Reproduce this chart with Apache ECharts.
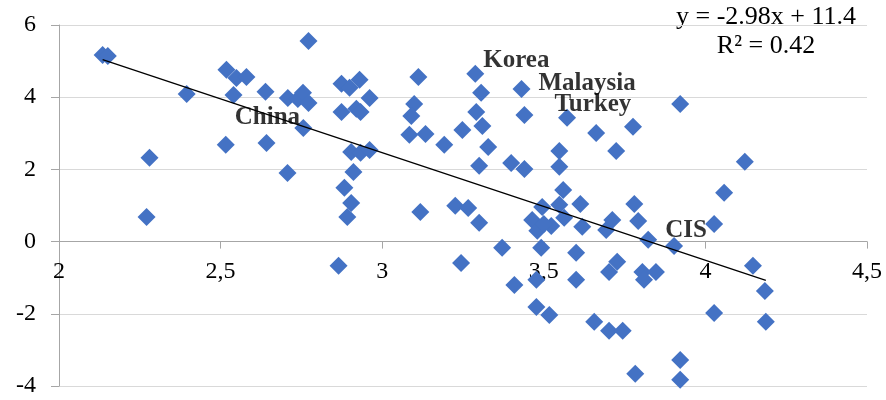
<!DOCTYPE html>
<html>
<head>
<meta charset="utf-8">
<script src="https://cdn.jsdelivr.net/npm/echarts@6/dist/echarts.min.js"></script>
<style>
  html, body { margin: 0; padding: 0; background: #fff; }
  #chart { width: 886px; height: 400px; }
</style>
</head>
<body>
<div id="chart"></div>
<script>
// 数据点 (x, y) ---------------------------------------------------------------
var xValues = [
    2.135, 2.151, 2.395, 2.280, 2.271, 2.518, 2.549, 2.580, 2.540, 2.639,
    2.516, 2.642, 2.707, 2.772, 2.708, 2.739, 2.755, 2.772, 2.756, 2.874,
    2.899, 2.930, 2.961, 2.874, 2.920, 2.933, 2.904, 2.933, 2.961, 2.911,
    2.883, 2.904, 2.892, 2.865, 3.112, 3.099, 3.090, 3.084, 3.134, 3.192,
    3.118, 3.226, 3.266, 3.288, 3.306, 3.291, 3.310, 3.248, 3.328, 3.431,
    3.440, 3.572, 3.662, 3.724, 3.548, 3.300, 3.399, 3.440, 3.548, 3.560,
    3.300, 3.464, 3.495, 3.480, 3.523, 3.548, 3.563, 3.613, 3.619, 3.693,
    3.712, 3.371, 3.492, 3.600, 3.922, 3.776, 4.122, 4.058, 3.780, 3.792,
    3.823, 3.903, 4.027, 3.244, 3.409, 3.477, 3.600, 3.702, 3.477, 3.517,
    3.656, 3.702, 3.744, 3.727, 3.805, 3.847, 3.810, 4.147, 4.184, 4.027,
    4.187, 3.783, 3.922, 3.922, 3.500
];
var yValues = [
    5.17, 5.14, 4.09, 2.32, 0.68, 4.76, 4.53, 4.56, 4.06, 4.15,
    2.68, 2.73, 1.90, 5.56, 3.98, 3.95, 4.12, 3.84, 3.15, 4.37,
    4.26, 4.48, 3.98, 3.59, 3.68, 3.59, 2.48, 2.46, 2.54, 1.93,
    1.49, 1.07, 0.68, -0.67, 4.56, 3.81, 3.48, 2.96, 2.98, 2.68,
    0.82, 0.99, 0.93, 4.65, 4.12, 3.59, 3.20, 3.09, 2.62, 4.23,
    3.51, 3.43, 3.01, 2.51, 2.51, 2.10, 2.18, 2.01, 2.07, 1.43,
    0.52, 0.60, 0.96, 0.30, 0.43, 1.02, 0.66, 1.04, 0.41, 0.32,
    0.60, -0.17, -0.17, -0.31, 3.81, 3.18, 2.21, 1.35, 1.04, 0.57,
    0.05, -0.12, 0.49, -0.59, -1.20, -1.06, -1.06, -0.84, -1.81, -2.03,
    -2.22, -2.47, -2.47, -0.56, -0.84, -0.84, -1.06, -0.67, -1.37, -1.98,
    -2.22, -3.66, -3.28, -3.83, 0.49
];

// 趋势线 y = -2.98x + 11.4
var trendSlope = -2.98;
var trendIntercept = 11.4;
var trendText = ['y = -2.98x + 11.4', 'R² = 0.42'];

// 标注
var labelNames = ['Korea', 'Malaysia', 'Turkey', 'China', 'CIS'];
var labelX = [3.415, 3.634, 3.652, 2.645, 3.940];
var labelY = [5.01, 4.37, 3.81, 3.43, 0.32];

// 坐标轴刻度
var xTicks = { min: 2, max: 4.5, step: 0.5 };
var yTicks = { min: -4, max: 6, step: 2 };

var points = [];
for (var i = 0; i < xValues.length; i++) {
    points.push([xValues[i], yValues[i]]);
}
var xMin = Math.min.apply(null, xValues);
var xMax = Math.max.apply(null, xValues);
var trendData = [
    [xMin, trendSlope * xMin + trendIntercept],
    [xMax, trendSlope * xMax + trendIntercept]
];
var labelData = [];
for (i = 0; i < labelNames.length; i++) {
    labelData.push({ name: labelNames[i], value: [labelX[i], labelY[i]] });
}

var serif = '"Liberation Serif", "Times New Roman", serif';
var axisGray = '#a6a6a6';

// 绘图区
var gridTop = 25, gridBottom = 14, chartH = 400;
var plotH = chartH - gridTop - gridBottom;
// x轴放在 y=0 处 (向上偏移)
var xAxisShift = -plotH * (0 - yTicks.min) / (yTicks.max - yTicks.min);

var myChart = echarts.init(document.getElementById('chart'));
var option = {
    animation: false,
    backgroundColor: '#fff',
    grid: {
        left: 59,
        right: 19,
        top: gridTop,
        bottom: gridBottom,
        containLabel: false,
        outerBoundsMode: 'none'
    },
    xAxis: {
        type: 'value',
        position: 'bottom',
        offset: xAxisShift,
        min: xTicks.min,
        max: xTicks.max,
        interval: xTicks.step,
        axisLine: { onZero: false, lineStyle: { color: axisGray, width: 1 } },
        axisTick: { show: true, length: 7, lineStyle: { color: axisGray } },
        splitLine: { show: false },
        axisLabel: {
            color: '#000',
            fontFamily: serif,
            fontSize: 24,
            margin: 18,
            formatter: function (v) { return String(v).replace('.', ','); }
        }
    },
    yAxis: {
        type: 'value',
        min: yTicks.min,
        max: yTicks.max,
        interval: yTicks.step,
        axisLine: { show: true, onZero: false, lineStyle: { color: axisGray, width: 1 } },
        axisTick: { show: true, length: 8, lineStyle: { color: axisGray } },
        splitLine: { show: true, lineStyle: { color: '#d9d9d9', width: 1 } },
        axisLabel: {
            color: '#000',
            fontFamily: serif,
            fontSize: 24,
            margin: 23
        }
    },
    graphic: [
        {
            type: 'text',
            x: 766,
            y: 17,
            style: {
                text: trendText[0],
                fill: '#000',
                font: '26px ' + serif,
                align: 'center',
                verticalAlign: 'middle'
            }
        },
        {
            type: 'text',
            x: 766,
            y: 46,
            style: {
                text: trendText[1],
                fill: '#000',
                font: '26px ' + serif,
                align: 'center',
                verticalAlign: 'middle'
            }
        }
    ],
    series: [
        {
            name: 'data',
            type: 'scatter',
            symbol: 'diamond',
            symbolSize: 18,
            itemStyle: { color: '#4472C4', opacity: 1 },
            data: points,
            z: 2
        },
        {
            name: 'trend',
            type: 'line',
            data: trendData,
            symbol: 'none',
            lineStyle: { color: '#000', width: 1.3 },
            z: 3
        },
        {
            name: 'labels',
            type: 'scatter',
            symbolSize: 0,
            data: labelData,
            label: {
                show: true,
                position: 'inside',
                formatter: '{b}',
                color: '#000',
                fontFamily: serif,
                fontWeight: 'bold',
                fontSize: 25
            },
            z: 4
        }
    ]
};
option && myChart.setOption(option);
</script>
</body>
</html>
